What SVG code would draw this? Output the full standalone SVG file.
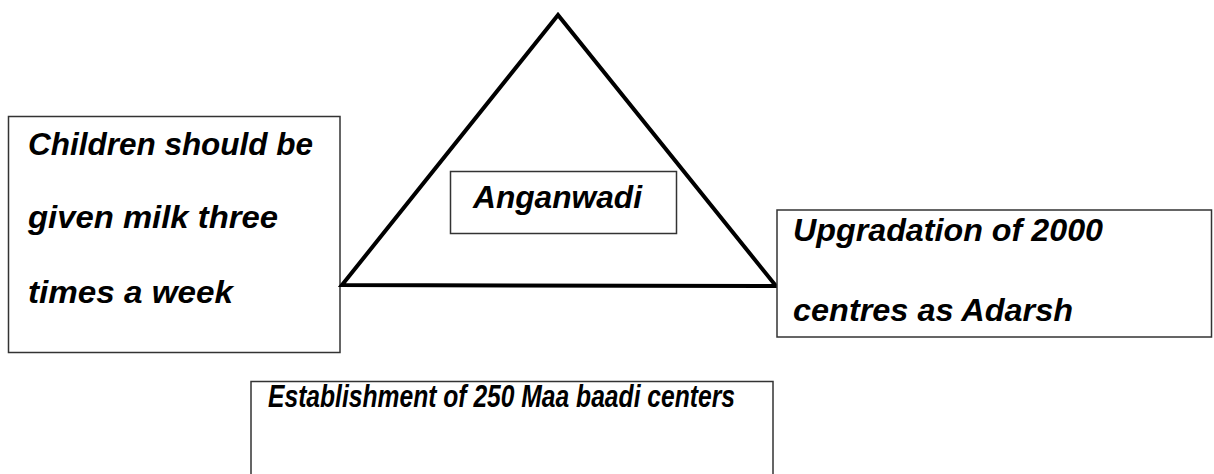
<svg xmlns="http://www.w3.org/2000/svg" width="1214" height="474" viewBox="0 0 1214 474">
<style>
.box{fill:#fff;stroke:#333;stroke-width:1.5}
.t{font-family:"Liberation Sans","DejaVu Sans",sans-serif;font-style:italic;font-weight:bold;font-size:31px;fill:#000}
</style>
<rect width="1214" height="474" fill="#fff"/>
<g id="left-box">
<rect class="box" x="8.5" y="116.5" width="331.5" height="236"/>
<text class="t" x="28" y="155" textLength="285" lengthAdjust="spacingAndGlyphs">Children should be</text>
<text class="t" x="28" y="228" textLength="250" lengthAdjust="spacingAndGlyphs">given milk three</text>
<text class="t" x="28" y="303" textLength="205" lengthAdjust="spacingAndGlyphs">times a week</text>
</g>
<g id="triangle">
<polygon points="558,15 342,285 776,286" fill="none" stroke="#000" stroke-width="4" stroke-linejoin="miter"/>
</g>
<g id="anganwadi">
<rect class="box" x="450.5" y="171.5" width="226" height="62"/>
<text class="t" x="473" y="208" textLength="169" lengthAdjust="spacingAndGlyphs">Anganwadi</text>
</g>
<g id="right-box">
<rect class="box" x="777" y="210" width="434.5" height="127"/>
<text class="t" x="793" y="241" textLength="310" lengthAdjust="spacingAndGlyphs">Upgradation of 2000</text>
<text class="t" x="793" y="321" textLength="280" lengthAdjust="spacingAndGlyphs">centres as Adarsh</text>
</g>
<g id="bottom-box">
<rect class="box" x="251" y="381.5" width="522" height="120"/>
<text class="t" x="268" y="407" textLength="467" lengthAdjust="spacingAndGlyphs">Establishment of 250 Maa baadi centers</text>
</g>
<g id="connectors"></g>
</svg>
